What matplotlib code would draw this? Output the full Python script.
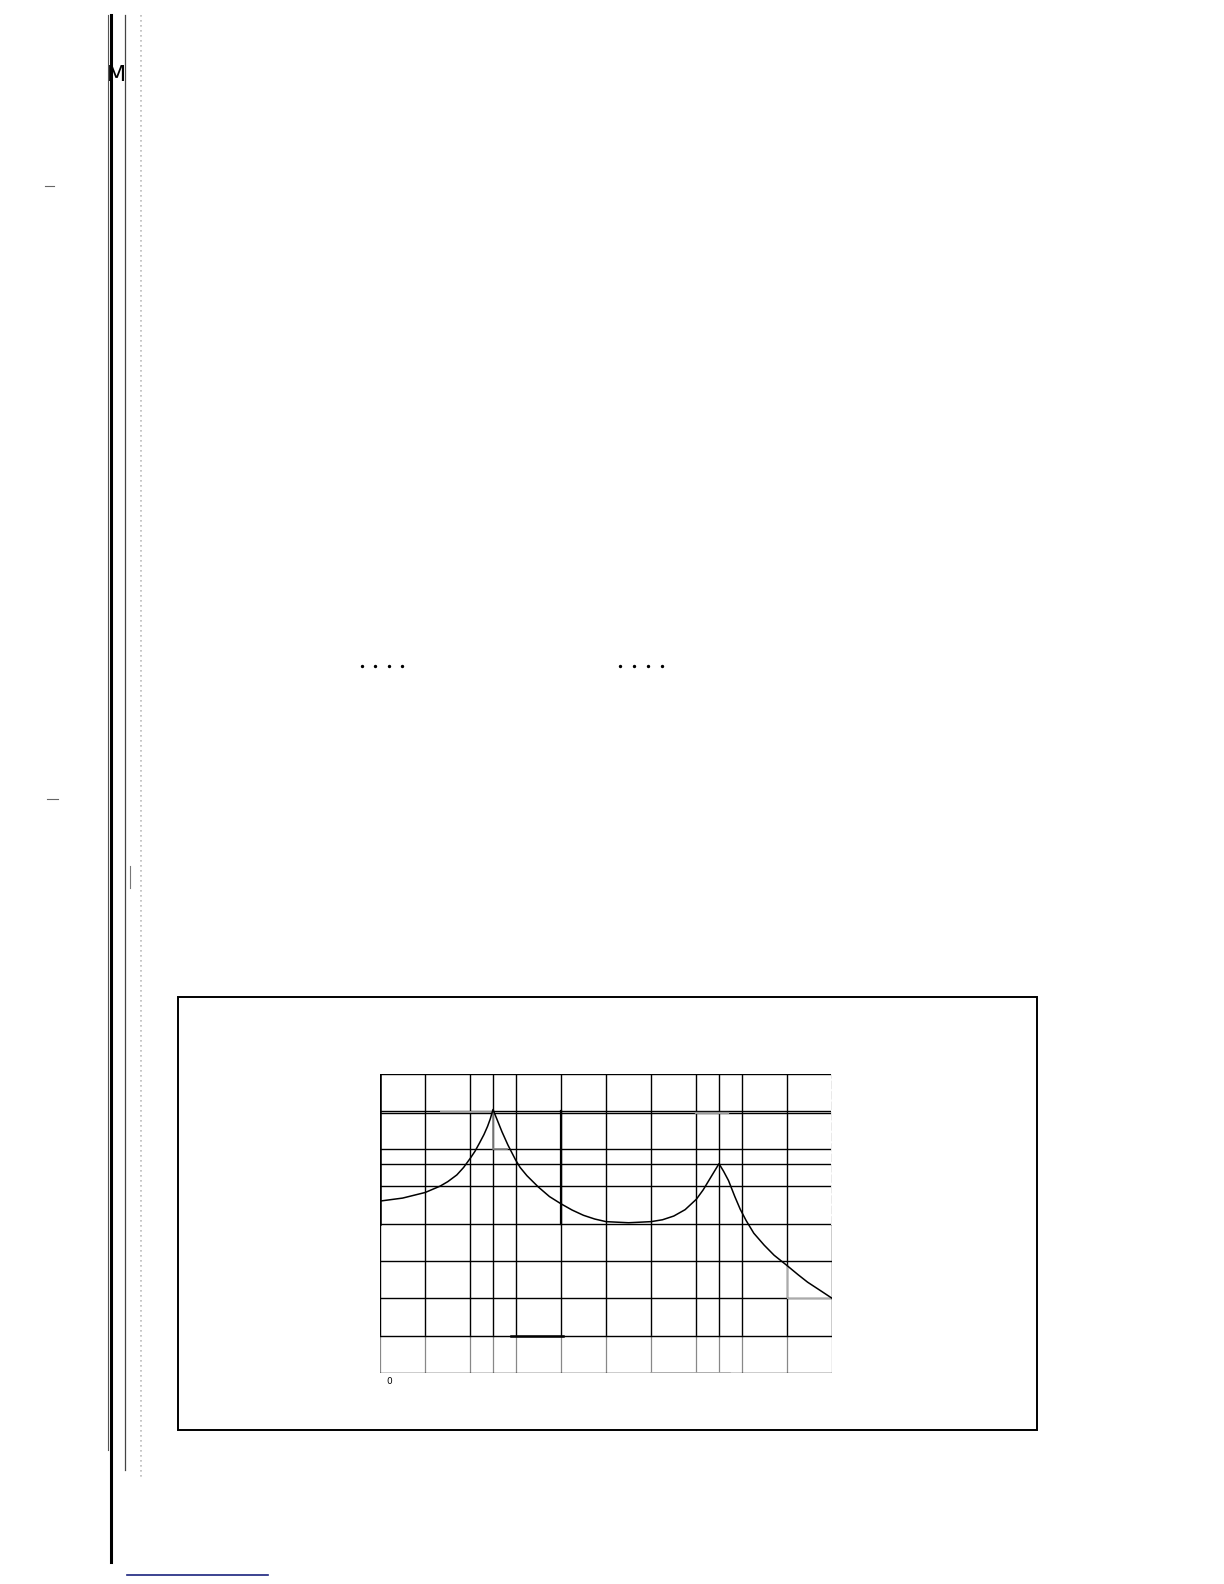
import numpy as np
import matplotlib
matplotlib.use("Agg")
import matplotlib.pyplot as plt
from matplotlib.patches import Rectangle

# Grid of the plot (in chart units: 10 columns x 8 rows)
x_major = [0, 1, 2, 3, 4, 5, 6, 7, 8, 9, 10]
x_extra = [2.5, 7.5]
y_major = [0, 1, 2, 3, 4, 5, 6, 7, 8]
y_extra = [5.58, 6.95]

# Curve: two peaks
curve_x = [0.0, 0.5, 1.0, 1.33, 1.5, 1.7, 1.85, 2.0, 2.1, 2.2, 2.3, 2.38, 2.44, 2.5,
           2.6, 2.7, 2.83, 3.0, 3.1, 3.25, 3.5, 3.75, 4.0, 4.25, 4.5, 4.75, 5.0, 5.5, 6.0,
           6.25, 6.5, 6.75, 7.0, 7.15, 7.3, 7.4, 7.5,
           7.6, 7.71, 7.85, 7.97, 8.1, 8.27, 8.5, 8.72, 9.0, 9.25, 9.46, 9.75, 10.0]
curve_y = [4.6, 4.68, 4.83, 5.0, 5.12, 5.3, 5.5, 5.75, 5.93, 6.15, 6.38, 6.6, 6.8, 7.05,
           6.75, 6.45, 6.1, 5.7, 5.5, 5.28, 4.98, 4.72, 4.53, 4.36, 4.22, 4.12, 4.05, 4.02, 4.05,
           4.1, 4.2, 4.37, 4.65, 4.9, 5.2, 5.4, 5.6,
           5.4, 5.15, 4.72, 4.38, 4.08, 3.74, 3.42, 3.15, 2.88, 2.63, 2.43, 2.2, 2.0]

# Page decorations (page pixel coordinates)
dots_x = [362, 375, 389, 402, 620, 634, 648, 662]
dots_y = [666] * 8

fig = plt.figure(figsize=(12.24, 15.84), dpi=100)
fig.patch.set_facecolor("white")

# ---- page layer ----
page = fig.add_axes([0, 0, 1, 1])
page.set_xlim(0, 1224)
page.set_ylim(1584, 0)
page.axis("off")

# binding lines on the left
page.plot([111, 111], [15, 1562], color="black", lw=2.2)
page.plot([108, 108], [15, 1450], color="#555555", lw=0.8)
page.plot([125, 125], [15, 1470], color="#444444", lw=0.9)
page.plot([141, 141], [15, 1480], color="#bbbbbb", lw=1.2, ls=(0, (1, 2)))
page.plot([130, 130], [866, 888], color="#777777", lw=0.8)
page.text(116, 75, "M", fontsize=16, ha="center", va="center",
          color="black", family="DejaVu Sans")

# small marks
page.plot([45, 54], [186, 186], color="#666666", lw=0.8)
page.plot([47, 58], [799, 799], color="#666666", lw=0.8)
page.scatter(dots_x, dots_y, s=2, color="black")

# blue rule at the bottom
page.plot([127, 268], [1575, 1575], color="#1a237e", lw=1.2)

# outer frame around the figure
page.add_patch(Rectangle((178, 997), 1037 - 178, 1430 - 997,
                         fill=False, edgecolor="black", lw=1.4))

# ---- chart ----
L, R, T, B = 380, 832, 1074, 1373
ax = fig.add_axes([L / 1224, 1 - B / 1584, (R - L) / 1224, (B - T) / 1584])
ax.set_xlim(0, 10)
ax.set_ylim(0, 8)
ax.axis("off")

for xv in x_major + x_extra:
    ax.plot([xv, xv], [1, 8], color="black", lw=1.0)
    # bottom row is fainter
    ax.plot([xv, xv], [0, 1], color="#888888", lw=0.9)

for yv in y_major + y_extra:
    ax.plot([0, 10], [yv, yv], color="black", lw=1.0)

# heavier left edge in the upper half
ax.plot([0, 0], [4, 8], color="black", lw=1.8)
ax.plot([4, 4], [4, 7], color="black", lw=1.6)
# right edge upper half is grey
ax.plot([10, 10], [4, 8], color="white", lw=1.4)
ax.plot([10, 10], [4, 8], color="#999999", lw=1.0, ls=(0, (6, 1.5)))

# thick short segment on the y=1 line
ax.plot([2.9, 4.05], [1, 1], color="black", lw=1.8)
# faded bottom edge part
ax.plot([6.0, 7.75], [0, 0], color="#aaaaaa", lw=1.2)

# grey artefacts
ax.plot([2.5, 2.5, 2.8], [7.0, 6.0, 6.0], color="#888888", lw=1.2)
ax.plot([1.35, 2.45], [6.98, 6.98], color="#999999", lw=1.4)
ax.plot([7.0, 7.7], [6.96, 6.96], color="#999999", lw=1.6)
ax.plot([9, 9, 10], [2.9, 2.0, 2.0], color="#aaaaaa", lw=0.9)

# the curve
ax.plot(curve_x, curve_y, color="black", lw=1.1, solid_joinstyle="round")

page.text(389, 1381, "0", fontsize=6.5, ha="center", va="center",
          color="black")

fig.savefig("out.png", dpi=100, facecolor="white")
